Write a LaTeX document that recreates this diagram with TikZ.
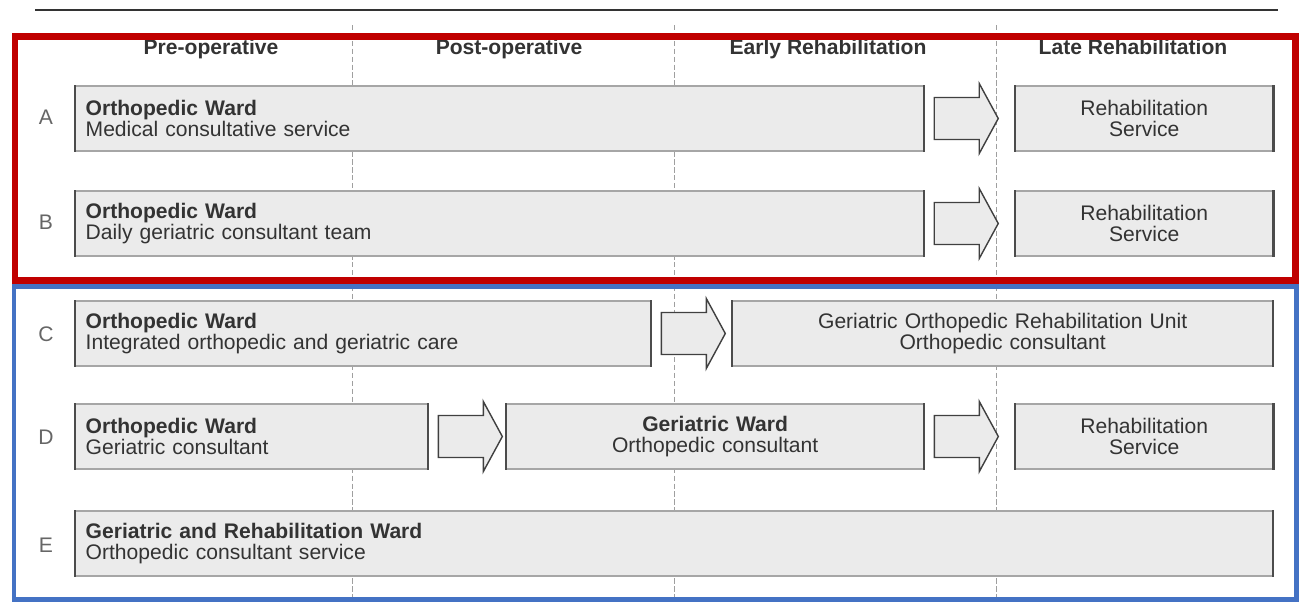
\documentclass[tikz,border=0pt]{standalone}
\usepackage{fontspec}
\setmainfont{Liberation Sans}
\usetikzlibrary{positioning, calc}
\usepackage{xcolor}

\definecolor{frameRed}{HTML}{C00000}
\definecolor{frameBlue}{HTML}{4472C4}
\definecolor{boxFill}{HTML}{EBEBEB}
\definecolor{txtGray}{HTML}{333333}

\tikzset{
  ward/.style={draw=gray!70, fill=boxFill, line width=0.8pt, anchor=west,
    inner xsep=0.2cm, inner ysep=0pt, minimum height=1.3cm, align=left,
    text=txtGray, font=\fontsize{12}{12}\selectfont},
  service/.style={ward, align=center},
  blockarr/.style={draw=black!75, fill=boxFill, line width=0.8pt, line join=miter},
  sideedge/.style={draw=black!70, line width=1.3pt},
  phase/.style={text=txtGray, anchor=base, font=\bfseries\fontsize{12}{14}\selectfont},
  rowlbl/.style={text=gray!80!black, font=\fontsize{12}{14}\selectfont},
  marker/.style={gray!75, line width=0.5pt, dash pattern=on 3pt off 1.5pt},
}

\newcommand{\blockarrow}[1]{%
  \draw[blockarr] ($(#1.east)+(10,-21)$) -- ++(45,0) -- ++(0,-14) -- ++(19,35)
    -- ++(-19,35) -- ++(0,-14) -- ++(-45,0) -- cycle;}

\begin{document}
\begin{tikzpicture}[x=0.02cm, y=-0.02cm]
        \useasboundingbox (0,0) rectangle (1301,603);
        \draw[black!80, line width=1.2pt] (35,10) -- (1278,10);

        % markers
        \foreach \xm in {352,674,996}
            \draw[marker] (\xm,25) -- (\xm,600);

        % phases
        \node[phase] (pre)   at (211,54)  {Pre-operative};
        \node[phase] (post)  at (509,54)  {Post-operative};
        \node[phase] (early) at (828,54)  {Early Rehabilitation};
        \node[phase] (late)  at (1133,54) {Late Rehabilitation};

        % A
        \node[rowlbl] (labA) at (46,117) {A};
        \node[ward, text width=16.56cm] (A1) at (75,118.5)
            {\textbf{Orthopedic Ward}\\Medical consultative service};
        \node[service, text width=4.74cm] (A2) at (1015,118.5)
            {Rehabilitation\\Service};

        % B
        \node[rowlbl] (labB) at (46,222) {B};
        \node[ward, text width=16.56cm] (B1) at (75,223.5)
            {\textbf{Orthopedic Ward}\\Daily geriatric consultant team};
        \node[service, text width=4.74cm] (B2) at (1015,223.5)
            {Rehabilitation\\Service};

        % C
        \node[rowlbl] (labC) at (46,334) {C};
        \node[ward, text width=11.1cm] (C1) at (75,333.5)
            {\textbf{Orthopedic Ward}\\Integrated orthopedic and geriatric care};
        \node[service, text width=10.4cm] (C2) at (732,333.5)
            {Geriatric Orthopedic Rehabilitation Unit\\Orthopedic consultant};

        % D
        \node[rowlbl] (labD) at (46,437) {D};
        \node[ward, text width=6.64cm] (D1) at (75,436.5)
            {\textbf{Orthopedic Ward}\\Geriatric consultant};
        \node[service, text width=7.94cm] (D2) at (506,436.5)
            {\textbf{Geriatric Ward}\\Orthopedic consultant};
        \node[service, text width=4.74cm] (D3) at (1015,436.5)
            {Rehabilitation\\Service};

        % E
        \node[rowlbl] (labE) at (46,545) {E};
        \node[ward, text width=23.54cm] (E1) at (75,543.5)
            {\textbf{Geriatric and Rehabilitation Ward}\\Orthopedic consultant service};

        % darker side edges
        \foreach \n in {A1,A2,B1,B2,C1,C2,D1,D2,D3,E1} {
            \draw[sideedge] (\n.north west) -- (\n.south west);
            \draw[sideedge] (\n.north east) -- (\n.south east);
        }

        % transfers
        \foreach \n in {A1,B1,C1,D1,D2} {
            \blockarrow{\n}
        }

        % frames
        \draw[frameRed, line width=0.14cm] (15,36) rectangle (1295,280);
        \draw[frameBlue, line width=0.1cm] (14,286) rectangle (1296,599);
    \end{tikzpicture}
\end{document}
